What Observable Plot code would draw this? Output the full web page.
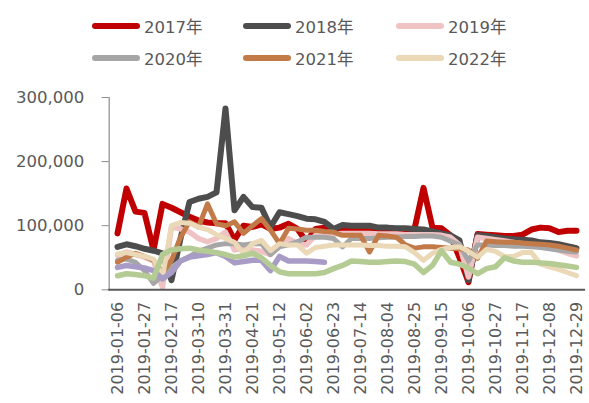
<!DOCTYPE html>
<html>
<head>
<meta charset="utf-8">
<script src="https://cdn.jsdelivr.net/npm/d3@7"></script>
<script src="https://cdn.jsdelivr.net/npm/@observablehq/plot@0.6"></script>
<style>
  html, body { margin: 0; padding: 0; background: #fff; }
  #wrap { position: relative; width: 589px; height: 403px; overflow: hidden; }
  #legend { position: relative; width: 589px; height: 80px; font-family: "DejaVu Sans", "Noto Sans CJK SC", sans-serif; }
  .item { position: absolute; display: flex; align-items: center; height: 20px; }
  .sw { width: 48px; height: 6px; border-radius: 3px; margin-right: 4px; }
  .lab { font-size: 16.5px; color: #595959; white-space: nowrap; }
</style>
</head>
<body>
<div id="wrap">
  <div id="legend"></div>
  <div id="chart"></div>
</div>
<script>
const dates = ["2019-01-06","2019-01-13","2019-01-20","2019-01-27","2019-02-03","2019-02-10","2019-02-17","2019-02-24","2019-03-03","2019-03-10","2019-03-17","2019-03-24","2019-03-31","2019-04-07","2019-04-14","2019-04-21","2019-04-28","2019-05-05","2019-05-12","2019-05-19","2019-05-26","2019-06-02","2019-06-09","2019-06-16","2019-06-23","2019-06-30","2019-07-07","2019-07-14","2019-07-21","2019-07-28","2019-08-04","2019-08-11","2019-08-18","2019-08-25","2019-09-01","2019-09-08","2019-09-15","2019-09-22","2019-09-29","2019-10-06","2019-10-13","2019-10-20","2019-10-27","2019-11-03","2019-11-10","2019-11-17","2019-11-24","2019-12-01","2019-12-08","2019-12-15","2019-12-22","2019-12-29"];

const xTickLabels = ["2019-01-06","2019-01-27","2019-02-17","2019-03-10","2019-03-31","2019-04-21","2019-05-12","2019-06-02","2019-06-23","2019-07-14","2019-08-04","2019-08-25","2019-09-15","2019-10-06","2019-10-27","2019-11-17","2019-12-08","2019-12-29"];
const yTicks = [0, 100000, 200000, 300000];

const seriesNames = ["2017年","2018年","2019年","2020年","2021年","2022年","2023年","2024年"];
const legendNames = ["2017年","2018年","2019年","2020年","2021年","2022年"];

const s2017 = [88000,158000,122000,120000,62000,134000,128000,121000,114000,108000,105000,104000,104000,78000,100000,98000,102000,95000,97000,103000,95000,75000,95000,97000,90000,92000,93000,92000,92000,93000,93000,94000,94000,95000,159000,97000,96000,85000,50000,12000,87000,86000,85000,84000,84000,86000,94000,97000,96000,90000,92000,92000];
const s2018 = [67000,71000,68000,64000,61000,57000,15000,80000,137000,142000,145000,152000,283000,124000,145000,129000,128000,98000,121000,118000,115000,111000,110000,106000,95000,101000,100000,100000,100000,97000,97000,96000,96000,95000,94000,91000,88000,85000,77000,15000,85000,84000,82000,80000,79000,78000,77000,74000,73000,71000,68000,65000];
const s2019 = [54000,59000,55000,51000,45000,4000,98000,95000,90000,80000,75000,80000,90000,62000,65000,62000,60000,55000,72000,80000,72000,70000,85000,87000,87000,88000,88000,88000,88000,87000,87000,87000,86000,86000,86000,86000,85000,82000,70000,20000,82000,80000,78000,76000,74000,72000,70000,68000,66000,62000,57000,53000];
const s2020 = [46000,48000,43000,30000,10000,22000,35000,45000,52000,60000,65000,70000,72000,72000,70000,72000,72000,55000,67000,70000,75000,82000,82000,82000,80000,67000,80000,80000,80000,81000,82000,82000,83000,83000,84000,84000,82000,76000,70000,45000,70000,70000,69000,69000,68000,68000,67000,66000,64000,62000,60000,59000];
const s2021 = [43000,51000,57000,52000,46000,27000,46000,82000,106000,98000,134000,103000,100000,106000,88000,100000,111000,93000,72000,96000,95000,93000,93000,91000,90000,85000,85000,85000,59000,85000,84000,82000,70000,65000,67000,67000,66000,65000,64000,62000,49000,76000,75000,74000,74000,73000,72000,71000,70000,68000,65000,62000];
const s2022 = [56000,58000,55000,52000,48000,20000,100000,105000,104000,98000,94000,86000,80000,74000,57000,72000,77000,61000,72000,70000,70000,57000,66000,68000,70000,70000,70000,70000,69000,69000,68000,68000,67000,58000,46000,57000,63000,66000,67000,60000,51000,63000,60000,52000,52000,58000,58000,40000,36000,32000,27000,22000];
const s2023 = [35000,38000,36000,34000,30000,17000,27000,45000,51000,53000,55000,58000,52000,42000,44000,46000,46000,30000,52000,45000,45000,45000,44000,43000];
const s2024 = [22000,25000,24000,22000,18000,55000,62000,64000,65000,62000,60000,58000,55000,51000,53000,57000,50000,38000,28000,25000,25000,25000,25000,27000,33000,38000,45000,44000,43000,43000,44000,45000,44000,40000,27000,38000,61000,43000,40000,34000,25000,33000,36000,50000,45000,43000,43000,42000,41000,39000,37000,35000];

const seriesValues = [s2017, s2018, s2019, s2020, s2021, s2022, s2023, s2024];
const colors = ["#C00000","#4D4D4D","#EFC3C3","#A6A6A6","#C27A48","#EAD8B6","#A89BC5","#B4CC94"];
const widths = [6, 6, 5.5, 5, 5, 5, 5.5, 5.5];

// legend
const legendLeft = [92, 243, 396];
const legendTop = [16, 48];
const legendEl = document.getElementById("legend");
legendNames.forEach((name, k) => {
  const idx = seriesNames.indexOf(name);
  const item = document.createElement("div");
  item.className = "item";
  item.style.left = legendLeft[k % 3] + "px";
  item.style.top = legendTop[Math.floor(k / 3)] + "px";
  const sw = document.createElement("div");
  sw.className = "sw";
  sw.style.background = colors[idx];
  const lab = document.createElement("span");
  lab.className = "lab";
  lab.textContent = name;
  item.appendChild(sw);
  item.appendChild(lab);
  legendEl.appendChild(item);
});

const lineMarks = seriesValues.map((vals, k) => {
  const rows = vals.map((v, i) => ({date: dates[i], value: v, series: seriesNames[k]}));
  return Plot.line(rows, {
    x: "date", y: "value",
    stroke: colors[k], strokeWidth: widths[k],
    strokeLinejoin: "round", strokeLinecap: "round"
  });
});

const chart = Plot.plot({
  width: 589,
  height: 323,
  marginTop: 17,
  marginBottom: 113.7,
  marginLeft: 108.7,
  marginRight: 5.4,
  x: {type: "point", domain: dates, padding: 0.5, axis: null, label: null},
  y: {domain: [0, 300000], axis: null, label: null},
  style: {fontFamily: "DejaVu Sans, sans-serif", color: "#595959", background: "white", overflow: "visible"},
  marks: [
    Plot.frame({anchor: "left", stroke: "#8c8c8c", strokeWidth: 1.2}),
    Plot.axisY({ticks: yTicks, tickFormat: d3.format(","), tickSize: 7, tickPadding: 18, fontSize: 16.5, stroke: "#8c8c8c", strokeOpacity: 1, fill: "#595959", label: null}),
    ...lineMarks,
    Plot.frame({anchor: "bottom", stroke: "#595959", strokeWidth: 2}),
    Plot.axisX({ticks: xTickLabels, tickRotate: -90, tickSize: 0, tickPadding: 12, fontSize: 16, fill: "#595959", label: null})
  ]
});
document.getElementById("chart").appendChild(chart);
</script>
</body>
</html>
